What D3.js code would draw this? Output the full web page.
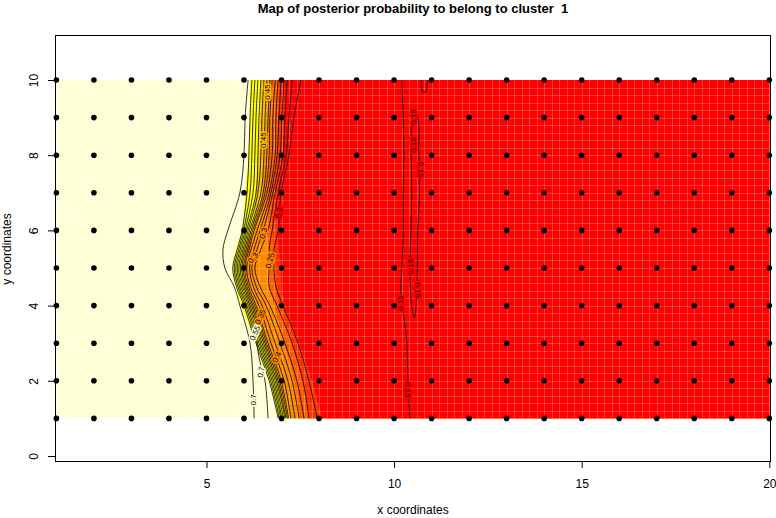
<!DOCTYPE html>
<html>
<head>
<meta charset="utf-8">
<script src="https://cdn.jsdelivr.net/npm/d3@7/dist/d3.min.js"></script>
<style>
  body { margin: 0; background: #fff; }
  svg { display: block; font-family: "Liberation Sans", Arial, Helvetica, sans-serif; }
</style>
</head>
<body>
<svg width="776" height="518"></svg>
<script>
// sampling sites (one dot each)
var siteX = [1, 2, 3, 4, 5, 6, 7, 8, 9, 10, 11, 12, 13, 14, 15, 16, 17, 18, 19, 20];
var siteY = [1, 2, 3, 4, 5, 6, 7, 8, 9, 10];

var xTicks = [5, 10, 15, 20];
var yTicks = [0, 2, 4, 6, 8, 10];

var rowY = [1, 2, 3, 4, 4.5, 5, 5.5, 6, 7, 8, 9, 10];

// colour of the probability image, left to right:
// pale -> yellow -> gold -> orange -> dark orange -> red orange -> red
var heatCols = ["#FFFFD5", "#FFFF00", "#FFBF00", "#FF8A00", "#FF5C00", "#FF3000", "#FF0000"];
// x where each colour starts, one line per row of rowY
var colourEdges = [
  [6.93, 7.09, 7.23, 7.49, 7.76, 8.08],
  [6.67, 6.85, 7.01, 7.33, 7.55, 7.81],
  [6.32, 6.51, 6.64, 7.07, 7.28, 7.47],
  [5.92, 6.13, 6.32, 6.80, 6.96, 7.09],
  [5.79, 6.00, 6.13, 6.69, 6.85, 7.01],
  [5.71, 5.92, 6.03, 6.69, 6.85, 6.99],
  [5.79, 5.98, 6.06, 6.64, 6.80, 6.93],
  [5.95, 6.19, 6.27, 6.61, 6.75, 6.91],
  [6.03, 6.32, 6.48, 6.61, 6.77, 6.91],
  [6.13, 6.37, 6.53, 6.69, 6.88, 7.04],
  [6.16, 6.43, 6.59, 6.75, 6.91, 7.07],
  [6.16, 6.45, 6.61, 6.77, 6.93, 7.09]
];

// contour lines of the transition zone, x per row (left to right)
var lineX = [
  [6.27, 6.91, 6.94, 6.98, 7.01, 7.05, 7.09, 7.12, 7.16, 7.19, 7.25, 7.36, 7.47, 7.60, 7.73, 7.95],
  [6.24, 6.67, 6.71, 6.75, 6.79, 6.83, 6.87, 6.91, 6.95, 6.99, 7.07, 7.17, 7.28, 7.41, 7.57, 7.73],
  [6.16, 6.32, 6.36, 6.40, 6.44, 6.48, 6.52, 6.56, 6.60, 6.64, 6.72, 6.83, 6.96, 7.09, 7.28, 7.44],
  [5.89, 6.00, 6.04, 6.08, 6.12, 6.16, 6.20, 6.24, 6.28, 6.32, 6.40, 6.48, 6.59, 6.69, 6.88, 7.04],
  [5.74, 5.80, 5.84, 5.88, 5.92, 5.96, 6.00, 6.04, 6.08, 6.12, 6.17, 6.25, 6.33, 6.43, 6.67, 6.85],
  [5.49, 5.70, 5.74, 5.78, 5.82, 5.86, 5.90, 5.94, 5.98, 6.02, 6.07, 6.15, 6.21, 6.29, 6.67, 6.80],
  [5.44, 5.82, 5.86, 5.90, 5.94, 5.98, 6.02, 6.06, 6.10, 6.14, 6.19, 6.27, 6.35, 6.45, 6.67, 6.80],
  [5.57, 5.95, 5.99, 6.03, 6.07, 6.11, 6.15, 6.19, 6.23, 6.27, 6.35, 6.43, 6.51, 6.64, 6.75, 6.91],
  [5.89, 6.08, 6.16, 6.24, 6.32, 6.37, 6.45, 6.51, 6.56, 6.61, 6.67, 6.72, 6.77, 6.83, 6.91, 6.99],
  [6.00, 6.13, 6.21, 6.29, 6.37, 6.45, 6.53, 6.61, 6.67, 6.75, 6.83, 6.88, 6.96, 7.04, 7.12, 7.20],
  [6.03, 6.16, 6.24, 6.32, 6.40, 6.48, 6.56, 6.64, 6.69, 6.77, 6.85, 6.93, 7.01, 7.09, 7.20, 7.33],
  [6.11, 6.21, 6.29, 6.37, 6.45, 6.53, 6.61, 6.69, 6.75, 6.83, 6.91, 6.99, 7.07, 7.15, 7.28, 7.52]
];

// small extra contour in the lower left
var extraY = [1, 1.5, 2, 2.4, 2.8, 3.2];
var extraX = [6.64, 6.61, 6.56, 6.45, 6.37, 6.32];

// the 0.15 contours in the red area
var lineAY = [1, 2, 3, 3.5, 4, 4.5, 5, 6, 7, 8, 9, 10];
var lineAX = [10.42, 10.37, 10.34, 10.29, 10.21, 10.18, 10.21, 10.24, 10.24, 10.26, 10.24, 10.21];
var islandX = [10.55, 10.64, 10.66, 10.68, 10.63, 10.62, 10.60, 10.54, 10.47, 10.42, 10.45, 10.47, 10.46, 10.48];
var islandY = [9.25, 9.0, 8.0, 7.0, 6.0, 5.0, 4.2, 3.67, 4.0, 5.0, 6.0, 7.0, 8.0, 9.0];
var cupX = [10.74, 10.73, 10.77, 10.85, 10.88, 10.90];
var cupY = [10, 9.8, 9.68, 9.7, 9.85, 10];

// contour labels
var labText = ["0.45", "0.45", "0.2", "0.3", "0.3", "0.25", "0.35", "0.55", "0.4", "0.7", "0.7",
               "0.15", "0.15", "0.15", "0.15", "0.15", "0.15", "0.15"];
var labX = [6.61, 6.52, 6.93, 6.51, 6.24, 6.69, 6.43, 6.29, 6.87, 6.45, 6.24,
            10.51, 10.51, 10.70, 10.43, 10.64, 10.16, 10.37];
var labY = [9.68, 8.40, 6.47, 5.93, 5.27, 5.20, 3.70, 3.27, 2.63, 2.23, 1.49,
            9.02, 8.27, 7.61, 5.03, 4.41, 4.07, 1.76];
var labAngle = [-90, -90, -85, -75, -50, -75, -65, -65, -65, -80, -90,
                -90, -90, 90, -90, 90, -90, 90];

var svg = d3.select("svg");

var x = d3.scaleLinear().domain([1, 20]).range([56.4, 769.3]);
var y = d3.scaleLinear().domain([0, 10]).range([456, 80]);

//---------------- image ----------------
svg.append("clipPath").attr("id", "imgclip")
  .append("rect")
    .attr("x", x(1)).attr("y", y(10))
    .attr("width", x(20) - x(1)).attr("height", y(1) - y(10));

var img = svg.append("g").attr("clip-path", "url(#imgclip)");

img.append("rect")
  .attr("x", x(1)).attr("y", y(10))
  .attr("width", x(20) - x(1)).attr("height", y(1) - y(10))
  .attr("fill", heatCols[0]);

var rows = rowY.map(function(v, i) { return {y: v, e: colourEdges[i]}; });

heatCols.slice(1).forEach(function(col, k) {
  var band = d3.area()
    .y(function(d) { return y(d.y); })
    .x0(function(d) { return x(d.e[k]); })
    .x1(x(20) + 2)
    .curve(d3.curveCatmullRom);
  img.append("path").datum(rows).attr("d", band).attr("fill", col);
});

// faint seams between image cells
var seam = img.append("g").attr("stroke", "rgba(255,255,255,0.22)").attr("stroke-width", 1);
d3.range(1.2, 20, 0.2).forEach(function(v) {
  var px = Math.round(x(v)) + 0.5;
  seam.append("line").attr("x1", px).attr("x2", px).attr("y1", y(10)).attr("y2", y(1));
});
d3.range(1.2, 10, 0.2).forEach(function(v) {
  var py = Math.round(y(v)) + 0.5;
  seam.append("line").attr("y1", py).attr("y2", py).attr("x1", x(1)).attr("x2", x(20));
});

//---------------- contours ----------------
var cont = svg.append("g").attr("fill", "none").attr("stroke", "#000").attr("stroke-width", 0.8);
var line = d3.line()
  .x(function(d) { return x(d[0]); })
  .y(function(d) { return y(d[1]); })
  .curve(d3.curveCatmullRom);

for (var j = 0; j < lineX[0].length; j++) {
  cont.append("path")
    .datum(rowY.map(function(v, i) { return [lineX[i][j], v]; }))
    .attr("d", line);
}
cont.append("path").datum(extraY.map(function(v, i) { return [extraX[i], v]; })).attr("d", line);
cont.append("path").datum(lineAY.map(function(v, i) { return [lineAX[i], v]; })).attr("d", line);
cont.append("path").datum(cupY.map(function(v, i) { return [cupX[i], v]; })).attr("d", line);
cont.append("path")
  .datum(islandY.map(function(v, i) { return [islandX[i], v]; }))
  .attr("d", d3.line().x(function(d) { return x(d[0]); }).y(function(d) { return y(d[1]); })
    .curve(d3.curveCatmullRomClosed));

// colour of the image under a label, so the label cuts its line
function bgAt(xv, yv) {
  var best = 0;
  rowY.forEach(function(v, i) { if (Math.abs(v - yv) < Math.abs(rowY[best] - yv)) best = i; });
  var k = colourEdges[best].filter(function(e) { return e < xv; }).length;
  return heatCols[k];
}

var lab = svg.append("g").attr("font-size", 8).attr("text-anchor", "middle");
labText.forEach(function(t, i) {
  lab.append("text")
    .attr("transform", "translate(" + x(labX[i]) + "," + y(labY[i]) + ") rotate(" + labAngle[i] + ")")
    .attr("dy", "0.35em")
    .attr("fill", "#000")
    .attr("stroke", bgAt(labX[i], labY[i]))
    .attr("stroke-width", 3)
    .attr("paint-order", "stroke")
    .text(t);
});

//---------------- points ----------------
var pts = [];
siteY.forEach(function(b) { siteX.forEach(function(a) { pts.push([a, b]); }); });
svg.append("g").selectAll("circle")
  .data(pts)
  .enter().append("circle")
    .attr("cx", function(d) { return x(d[0]); })
    .attr("cy", function(d) { return y(d[1]); })
    .attr("r", 2.8)
    .attr("fill", "#000");

//---------------- axes & box ----------------
var xAxis = svg.append("g")
  .attr("transform", "translate(0,461)")
  .call(d3.axisBottom(x).tickValues(xTicks).tickSize(7).tickSizeOuter(0).tickPadding(11.5));
xAxis.attr("font-size", 12).attr("font-family", null);

var yAxis = svg.append("g")
  .attr("transform", "translate(55,0)")
  .call(d3.axisLeft(y).tickValues(yTicks).tickSize(7).tickSizeOuter(0));
yAxis.attr("font-size", 12).attr("font-family", null);
yAxis.selectAll("text")
  .attr("x", null).attr("dy", null)
  .attr("text-anchor", "middle")
  .attr("transform", "translate(-17,0) rotate(-90)");

svg.append("rect")
  .attr("x", 55.5).attr("y", 35.5)
  .attr("width", 715).attr("height", 426)
  .attr("fill", "none").attr("stroke", "#000");

svg.append("text")
  .attr("x", 413).attr("y", 13)
  .attr("text-anchor", "middle")
  .attr("font-size", 13).attr("font-weight", "bold")
  .text("Map of posterior probability to belong to cluster  1")
  .style("white-space", "pre");

svg.append("text")
  .attr("x", 413).attr("y", 514)
  .attr("text-anchor", "middle")
  .attr("font-size", 12)
  .text("x coordinates");

svg.append("text")
  .attr("transform", "translate(11,249) rotate(-90)")
  .attr("text-anchor", "middle")
  .attr("font-size", 12)
  .text("y coordinates");
</script>
</body>
</html>
